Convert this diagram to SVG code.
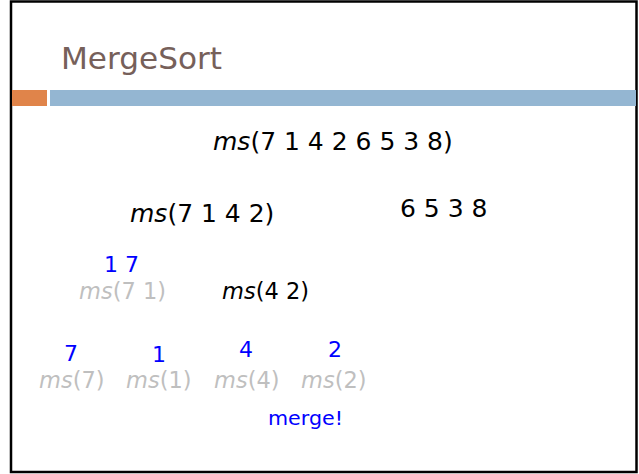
<svg xmlns="http://www.w3.org/2000/svg" width="639" height="474" viewBox="0 0 639 474">
  <style>
    .t { font-family: "DejaVu Sans", "Liberation Sans", sans-serif; font-size: 25px; }
    .title { font-family: "DejaVu Sans", "Liberation Sans", sans-serif; font-size: 30px; fill: #76605A; }
    .blk { fill: #000000; }
    .gry { fill: #BFBFBF; }
    .blu { fill: #0000FF; }
    .it { font-style: italic; }
    .md { font-size: 22.5px; }
    .sm { font-size: 22px; }
    .xs { font-size: 20px; }
  </style>
  <!-- slide frame -->
  <rect x="0" y="0" width="639" height="474" fill="#ffffff"/>
  <rect x="11" y="1.5" width="625.5" height="470.5" fill="#ffffff" stroke="#000000" stroke-width="2.5"/>
  <!-- header accent bars -->
  <rect x="12" y="90" width="35" height="16" fill="#E0844A"/>
  <rect x="50" y="90" width="586" height="16" fill="#94B6D2"/>

  <g id="title">
    <text class="title" x="61" y="69" textLength="161" lengthAdjust="spacingAndGlyphs">MergeSort</text>
  </g>

  <g id="root">
    <text class="t blk" x="213" y="150"><tspan class="it">ms</tspan>(7 1 4 2 6 5 3 8)</text>
  </g>

  <g id="left-half">
    <text class="t blk" x="130" y="222"><tspan class="it">ms</tspan>(7 1 4 2)</text>
  </g>
  <g id="right-half">
    <text class="t blk" x="400" y="217">6 5 3 8</text>
  </g>

  <g id="ms71">
    <text class="t blu sm" x="104" y="272" textLength="35">1 7</text>
    <text class="t gry md" x="79" y="299"><tspan class="it">ms</tspan>(7 1)</text>
  </g>
  <g id="ms42">
    <text class="t blk md" x="222" y="299"><tspan class="it">ms</tspan>(4 2)</text>
  </g>

  <g id="ms7">
    <text class="t blu sm" x="64" y="361">7</text>
    <text class="t gry md" x="39" y="388"><tspan class="it">ms</tspan>(7)</text>
  </g>
  <g id="ms1">
    <text class="t blu sm" x="152" y="362">1</text>
    <text class="t gry md" x="126" y="388"><tspan class="it">ms</tspan>(1)</text>
  </g>
  <g id="ms4">
    <text class="t blu sm" x="239" y="357">4</text>
    <text class="t gry md" x="214" y="388"><tspan class="it">ms</tspan>(4)</text>
  </g>
  <g id="ms2">
    <text class="t blu sm" x="328" y="357">2</text>
    <text class="t gry md" x="301" y="388"><tspan class="it">ms</tspan>(2)</text>
  </g>

  <g id="merge-note">
    <text class="t blu xs" x="268" y="425" textLength="75" lengthAdjust="spacingAndGlyphs">merge!</text>
  </g>
</svg>
